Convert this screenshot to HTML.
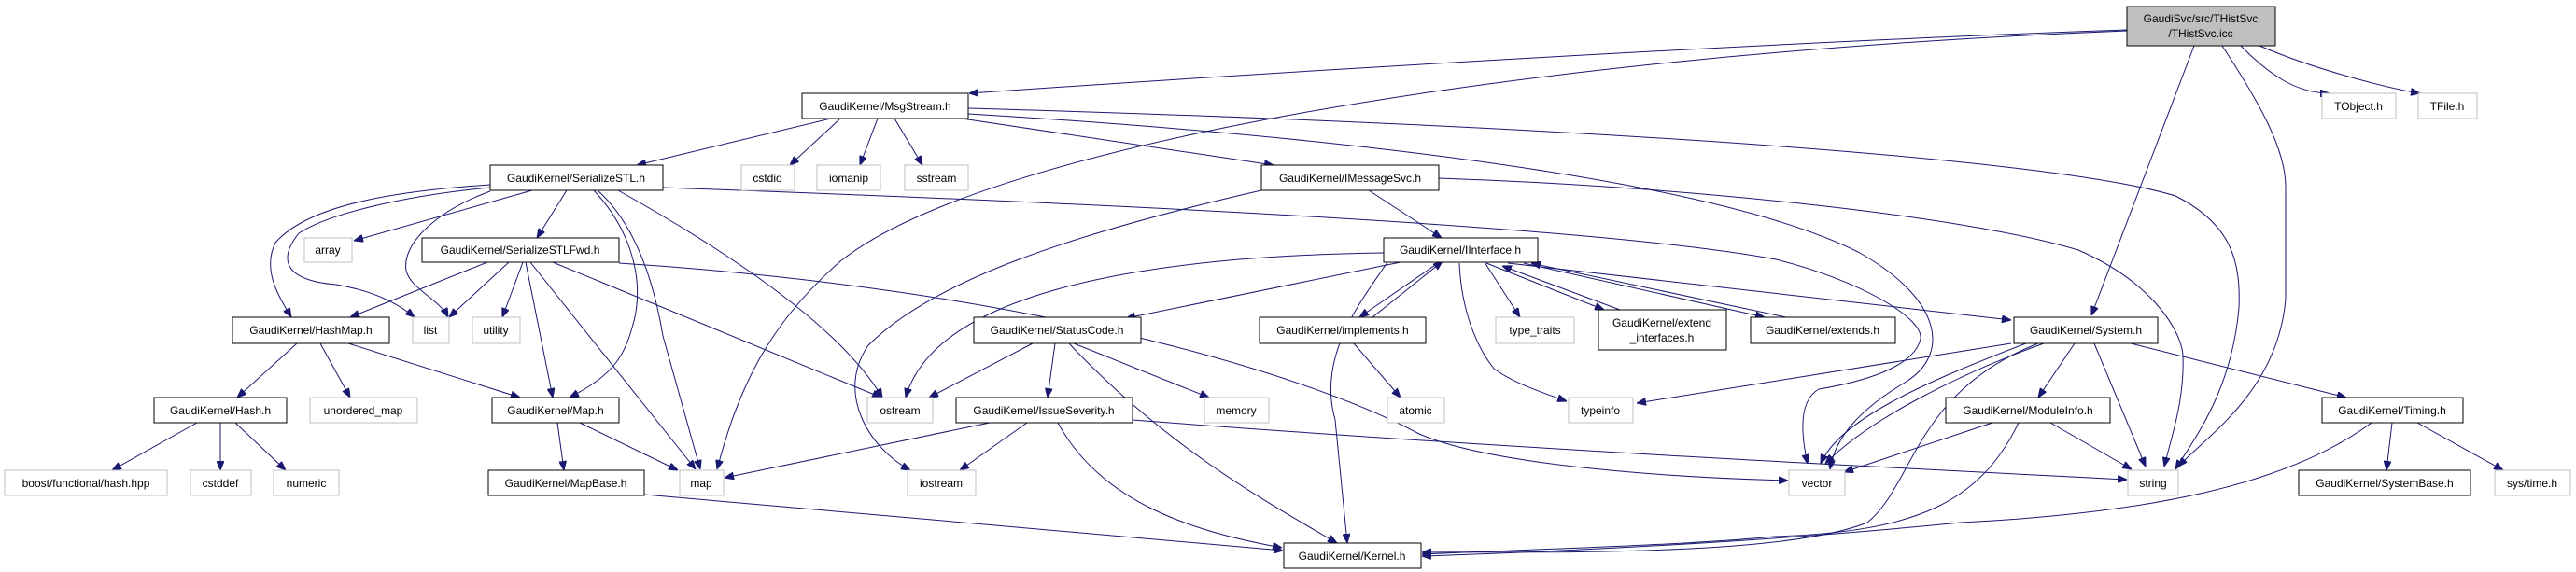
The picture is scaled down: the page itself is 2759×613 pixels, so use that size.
<!DOCTYPE html>
<html><head><meta charset="utf-8"><style>
html,body{margin:0;padding:0;background:#fff;}
svg{display:block;}
text{font-family:"Liberation Sans",sans-serif;font-size:12px;fill:#000;text-anchor:middle;}
.n{fill:#fff;stroke:#000;stroke-width:1;}
.g{fill:#fff;stroke:#bfbfbf;stroke-width:1;}
path{fill:none;stroke:#191970;stroke-width:1;}
</style></head><body>
<svg width="2759" height="613" viewBox="0 0 2759 613" xmlns="http://www.w3.org/2000/svg">
<defs><marker id="a" markerWidth="10" markerHeight="8" refX="10" refY="4" orient="auto" markerUnits="userSpaceOnUse"><polygon points="0,0 10,4 0,8" fill="#191970" stroke="#191970"/></marker></defs>
<g marker-end="url(#a)">
<!-- THistSvc -->
<path d="M2278,32 C1900,45 1400,75 1038,100"/>
<path d="M2278,33 C1600,60 1050,160 900,280 C820,350 790,420 768,503"/>
<path d="M2350,49 L2240,338"/>
<path d="M2380,49 C2420,110 2448,160 2448,200 L2448,320 C2440,420 2360,470 2333,500"/>
<path d="M2400,49 C2430,80 2460,100 2495,100"/>
<path d="M2420,49 C2480,75 2560,95 2592,100"/>
<!-- MsgStream -->
<path d="M890,127 L682,177"/>
<path d="M900,127 L846,177"/>
<path d="M940,127 L921,177"/>
<path d="M958,127 L988,177"/>
<path d="M1030,127 L1364,177"/>
<path d="M1037,116 C1700,135 2200,170 2330,210 C2390,240 2400,280 2398,330 C2390,420 2350,470 2330,503"/>
<path d="M1037,122 C1500,150 1850,200 1990,270 C2080,320 2090,380 2040,410 C1990,440 1965,470 1960,503"/>
<!-- IMessageSvc -->
<path d="M1466,204 L1544,255"/>
<path d="M1351,204 C1150,250 1000,300 930,370 C895,420 930,480 975,504"/>
<path d="M1541,191 C1800,200 2100,230 2226,268 C2300,300 2335,350 2338,380 C2340,430 2325,470 2318,500"/>
<!-- SerializeSTL -->
<path d="M570,204 L379,258"/>
<path d="M607,204 L575,255"/>
<path d="M525,198 C420,205 330,220 295,260 C280,290 300,320 312,340"/>
<path d="M525,201 C430,210 350,230 320,250 C300,275 300,300 360,305 C390,310 420,320 444,340"/>
<path d="M525,205 C470,225 430,260 435,290 C440,310 470,320 480,340"/>
<path d="M636,204 C670,240 690,290 680,340 C670,380 660,400 610,426"/>
<path d="M640,204 C680,240 700,300 710,360 L750,503"/>
<path d="M662,204 C780,270 900,350 945,426"/>
<path d="M710,201 C1100,215 1700,240 1902,278 C1990,300 2060,340 2057,363 C2050,395 1990,410 1948,417 C1925,430 1930,470 1936,497"/>
<!-- SerializeSTLFwd -->
<path d="M522,281 L375,340"/>
<path d="M545,281 L481,340"/>
<path d="M560,281 L538,340"/>
<path d="M563,281 L592,426"/>
<path d="M568,281 L745,503"/>
<path d="M592,281 L944,426"/>
<path d="M663,282 C1100,310 1400,400 1520,465 C1600,500 1800,512 1915,515"/>
<!-- HashMap -->
<path d="M318,368 L254,426"/>
<path d="M343,368 L375,426"/>
<path d="M373,368 L557,426"/>
<!-- Hash -->
<path d="M211,453 L120,504"/>
<path d="M236,453 L236,504"/>
<path d="M252,453 L306,504"/>
<!-- Map -->
<path d="M597,453 L604,504"/>
<path d="M621,453 L726,504"/>
<!-- MapBase -->
<path d="M690,530 L1374,590"/>
<!-- IInterface -->
<path d="M1500,281 L1206,341"/>
<path d="M1482,271 C1200,275 1000,320 970,426"/>
<path d="M1486,281 C1460,320 1410,380 1430,450 L1443,582"/>
<path d="M1563,282 C1565,330 1580,370 1600,395 C1620,410 1650,420 1678,430"/>
<path d="M1590,281 L1628,340"/>
<path d="M1592,282 L1718,332"/>
<path d="M1632,282 L1890,340"/>
<path d="M1615,282 L2154,343"/>
<path d="M1540,282 L1456,340"/>
<!-- reverse -->
<path d="M1470,340 L1545,280"/>
<path d="M1735,332 L1609,285"/>
<path d="M1913,340 L1640,282"/>
<!-- StatusCode -->
<path d="M1106,368 L995,426"/>
<path d="M1130,368 L1122,426"/>
<path d="M1150,368 L1295,426"/>
<path d="M1145,368 C1250,480 1360,540 1432,582"/>
<!-- implements -->
<path d="M1450,368 L1500,426"/>
<!-- IssueSeverity -->
<path d="M1060,453 L776,512"/>
<path d="M1100,453 L1028,504"/>
<path d="M1133,453 C1180,540 1280,570 1373,587"/>
<path d="M1213,450 C1600,480 2000,500 2278,514"/>
<!-- System -->
<path d="M2154,368 L1753,432"/>
<path d="M2189,368 C2100,400 2000,450 1955,497"/>
<path d="M2170,368 C2060,410 1970,450 1950,497"/>
<path d="M2243,368 L2298,500"/>
<path d="M2222,368 L2183,426"/>
<path d="M2282,368 L2513,426"/>
<path d="M2183,368 C2050,420 2050,520 2000,560 C1900,600 1600,590 1523,592"/>
<!-- ModuleInfo -->
<path d="M2134,453 L1975,506"/>
<path d="M2196,453 L2283,503"/>
<path d="M2162,453 C2120,540 2050,570 1900,575 C1800,585 1600,590 1523,594"/>
<!-- Timing -->
<path d="M2562,453 L2556,504"/>
<path d="M2589,453 L2681,504"/>
<path d="M2540,453 C2450,520 2300,550 2100,560 C1900,580 1700,590 1523,596"/>
</g>
<!-- nodes -->
<rect x="2278" y="7" width="159" height="42" fill="#bfbfbf" stroke="#000"/>
<text x="2357" y="24">GaudiSvc/src/THistSvc</text><text x="2357" y="40">/THistSvc.icc</text>
<rect class="g" x="2487" y="100" width="79" height="27"/><text x="2526" y="118">TObject.h</text>
<rect class="g" x="2590" y="100" width="63" height="27"/><text x="2621" y="118">TFile.h</text>
<rect class="n" x="859" y="100" width="178" height="27"/><text x="948" y="118">GaudiKernel/MsgStream.h</text>
<rect class="n" x="525" y="177" width="185" height="27"/><text x="617" y="195">GaudiKernel/SerializeSTL.h</text>
<rect class="g" x="794" y="177" width="57" height="27"/><text x="822" y="195">cstdio</text>
<rect class="g" x="875" y="177" width="68" height="27"/><text x="909" y="195">iomanip</text>
<rect class="g" x="969" y="177" width="68" height="27"/><text x="1003" y="195">sstream</text>
<rect class="n" x="1351" y="177" width="190" height="27"/><text x="1446" y="195">GaudiKernel/IMessageSvc.h</text>
<rect class="g" x="326" y="255" width="51" height="26"/><text x="351" y="272">array</text>
<rect class="n" x="452" y="255" width="211" height="26"/><text x="557" y="272">GaudiKernel/SerializeSTLFwd.h</text>
<rect class="n" x="1482" y="255" width="165" height="26"/><text x="1564" y="272">GaudiKernel/IInterface.h</text>
<rect class="n" x="249" y="340" width="168" height="28"/><text x="333" y="358">GaudiKernel/HashMap.h</text>
<rect class="g" x="442" y="340" width="39" height="28"/><text x="461" y="358">list</text>
<rect class="g" x="506" y="340" width="51" height="28"/><text x="531" y="358">utility</text>
<rect class="n" x="1043" y="340" width="179" height="28"/><text x="1132" y="358">GaudiKernel/StatusCode.h</text>
<rect class="n" x="1349" y="340" width="178" height="28"/><text x="1438" y="358">GaudiKernel/implements.h</text>
<rect class="g" x="1602" y="340" width="84" height="28"/><text x="1644" y="358">type_traits</text>
<rect class="n" x="1712" y="332" width="137" height="43"/><text x="1780" y="350">GaudiKernel/extend</text><text x="1780" y="366">_interfaces.h</text>
<rect class="n" x="1875" y="340" width="155" height="28"/><text x="1952" y="358">GaudiKernel/extends.h</text>
<rect class="n" x="2157" y="340" width="154" height="28"/><text x="2234" y="358">GaudiKernel/System.h</text>
<rect class="n" x="165" y="426" width="142" height="27"/><text x="236" y="444">GaudiKernel/Hash.h</text>
<rect class="g" x="332" y="426" width="115" height="27"/><text x="389" y="444">unordered_map</text>
<rect class="n" x="527" y="426" width="136" height="27"/><text x="595" y="444">GaudiKernel/Map.h</text>
<rect class="g" x="929" y="426" width="70" height="27"/><text x="964" y="444">ostream</text>
<rect class="n" x="1024" y="426" width="189" height="27"/><text x="1118" y="444">GaudiKernel/IssueSeverity.h</text>
<rect class="g" x="1290" y="426" width="69" height="27"/><text x="1324" y="444">memory</text>
<rect class="g" x="1486" y="426" width="61" height="27"/><text x="1516" y="444">atomic</text>
<rect class="g" x="1680" y="426" width="69" height="27"/><text x="1714" y="444">typeinfo</text>
<rect class="n" x="2084" y="426" width="176" height="27"/><text x="2172" y="444">GaudiKernel/ModuleInfo.h</text>
<rect class="n" x="2487" y="426" width="151" height="27"/><text x="2562" y="444">GaudiKernel/Timing.h</text>
<rect class="g" x="5" y="504" width="174" height="27"/><text x="92" y="522">boost/functional/hash.hpp</text>
<rect class="g" x="204" y="504" width="65" height="27"/><text x="236" y="522">cstddef</text>
<rect class="g" x="293" y="504" width="70" height="27"/><text x="328" y="522">numeric</text>
<rect class="n" x="523" y="504" width="167" height="27"/><text x="606" y="522">GaudiKernel/MapBase.h</text>
<rect class="g" x="728" y="504" width="47" height="27"/><text x="751" y="522">map</text>
<rect class="g" x="972" y="504" width="73" height="27"/><text x="1008" y="522">iostream</text>
<rect class="g" x="1916" y="504" width="60" height="27"/><text x="1946" y="522">vector</text>
<rect class="g" x="2279" y="504" width="54" height="27"/><text x="2306" y="522">string</text>
<rect class="n" x="2462" y="504" width="184" height="27"/><text x="2554" y="522">GaudiKernel/SystemBase.h</text>
<rect class="g" x="2672" y="504" width="81" height="27"/><text x="2712" y="522">sys/time.h</text>
<rect class="n" x="1375" y="582" width="147" height="27"/><text x="1448" y="600">GaudiKernel/Kernel.h</text>
</svg>
</body></html>
